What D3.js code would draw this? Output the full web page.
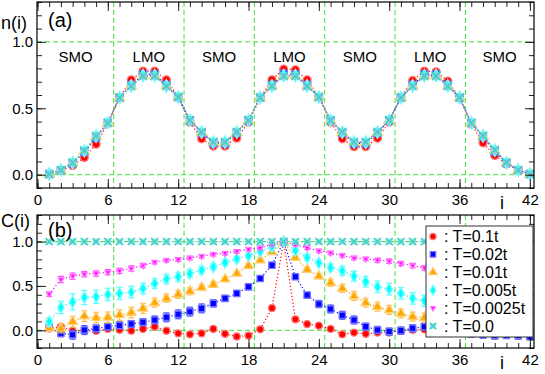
<!DOCTYPE html>
<html>
<head>
<meta charset="utf-8">
<script src="https://cdn.jsdelivr.net/npm/d3@7"></script>
<style>
	body { margin: 0; background: #fff; }
	svg { display: block; font-family: "Liberation Sans", Arial, sans-serif; }
</style>
</head>
<body>
<div id="chart"></div>
<script>
// sites of the chain
const sites = d3.range(1, 43);
const xTickLabels = [0, 6, 12, 18, 24, 30, 36, 42];
const boundaries = [6.5, 12.5, 18.5, 24.5, 30.5, 36.5];
const regionEdges = [0, 6.5, 12.5, 18.5, 24.5, 30.5, 36.5, 42.35];
const regionLabels = ["SMO", "LMO", "SMO", "LMO", "SMO", "LMO", "SMO"];
const legendLabels = ["T=0.1t", "T=0.02t", "T=0.01t", "T=0.005t", "T=0.0025t", "T=0.0"];

// (a) density n(i)
const nT01 = [0.005, 0.03, 0.07, 0.13, 0.23, 0.385, 0.58, 0.715, 0.78, 0.78, 0.715, 0.585,
	0.395, 0.27, 0.215, 0.215, 0.275, 0.395, 0.58, 0.715, 0.795, 0.79, 0.715, 0.585,
	0.395, 0.27, 0.21, 0.21, 0.275, 0.395, 0.585, 0.71, 0.78, 0.775, 0.705, 0.58,
	0.38, 0.24, 0.145, 0.08, 0.035, 0.005];
const nT002 = [0.005, 0.035, 0.085, 0.17, 0.28, 0.39, 0.58, 0.675, 0.755, 0.755, 0.675, 0.585,
	0.41, 0.315, 0.237, 0.237, 0.315, 0.41, 0.58, 0.675, 0.76, 0.755, 0.675, 0.585,
	0.41, 0.315, 0.235, 0.235, 0.315, 0.41, 0.58, 0.675, 0.755, 0.755, 0.675, 0.58,
	0.39, 0.285, 0.175, 0.088, 0.035, 0.005];
const nT001 = [0.005, 0.035, 0.09, 0.178, 0.288, 0.39, 0.58, 0.67, 0.748, 0.748, 0.67, 0.585,
	0.41, 0.32, 0.243, 0.243, 0.32, 0.41, 0.58, 0.67, 0.748, 0.748, 0.67, 0.585,
	0.41, 0.32, 0.243, 0.243, 0.32, 0.41, 0.58, 0.67, 0.748, 0.748, 0.67, 0.58,
	0.39, 0.29, 0.183, 0.09, 0.035, 0.005];
const nT0005 = [0.005, 0.035, 0.09, 0.18, 0.29, 0.39, 0.58, 0.668, 0.745, 0.745, 0.668, 0.585,
	0.41, 0.32, 0.245, 0.245, 0.32, 0.41, 0.58, 0.668, 0.745, 0.745, 0.668, 0.585,
	0.41, 0.32, 0.245, 0.245, 0.32, 0.41, 0.58, 0.668, 0.745, 0.745, 0.668, 0.58,
	0.39, 0.292, 0.185, 0.09, 0.035, 0.005];
const nT00025 = [0.005, 0.035, 0.092, 0.182, 0.292, 0.39, 0.58, 0.667, 0.744, 0.744, 0.667, 0.585,
	0.41, 0.322, 0.246, 0.246, 0.322, 0.41, 0.58, 0.667, 0.744, 0.744, 0.667, 0.585,
	0.41, 0.322, 0.246, 0.246, 0.322, 0.41, 0.58, 0.667, 0.744, 0.744, 0.667, 0.58,
	0.39, 0.293, 0.186, 0.092, 0.035, 0.005];
const nT0 = [0.005, 0.035, 0.092, 0.183, 0.293, 0.39, 0.58, 0.666, 0.743, 0.743, 0.666, 0.585,
	0.41, 0.323, 0.247, 0.247, 0.323, 0.41, 0.58, 0.666, 0.743, 0.743, 0.666, 0.585,
	0.41, 0.323, 0.247, 0.247, 0.323, 0.41, 0.58, 0.666, 0.743, 0.743, 0.666, 0.58,
	0.39, 0.294, 0.187, 0.093, 0.035, 0.005];

// (b) correlation C(i) with site 21
const cT01 = [0.02, 0.04, -0.005, -0.005, -0.007, 0.015, 0.005, -0.005, 0.015, 0.04, -0.005, -0.035,
	-0.045, -0.035, 0.015, -0.04, -0.07, -0.06, 0.011, 0.25, 1.0, 0.124, 0.07, 0.052,
	0.015, -0.045, -0.026, -0.04, -0.026, -0.026, -0.005, 0.005, 0.01, 0.02, -0.01, 0.0,
	-0.02, -0.03, -0.05, -0.04, -0.03, 0.0];
const cT002 = [0.03, -0.034, -0.05, 0.002, 0.02, 0.04, 0.055, 0.07, 0.09, 0.116, 0.146, 0.18,
	0.21, 0.247, 0.303, 0.36, 0.416, 0.49, 0.584, 0.734, 1.0, 0.603, 0.397, 0.296,
	0.24, 0.169, 0.116, 0.041, 0.004, -0.015, -0.004, 0.022, 0.04, 0.03, 0.01, -0.02,
	-0.04, -0.05, -0.06, -0.055, -0.06, -0.07];
const cT001 = [0.022, 0.02, 0.097, 0.16, 0.142, 0.146, 0.172, 0.2, 0.247, 0.31, 0.36, 0.404,
	0.44, 0.483, 0.517, 0.577, 0.64, 0.727, 0.79, 0.884, 1.0, 0.82, 0.685, 0.61,
	0.536, 0.472, 0.386, 0.31, 0.266, 0.228, 0.19, 0.154, 0.142, 0.12, 0.1, 0.09,
	0.07, 0.06, 0.05, 0.04, 0.03, 0.02];
const cT0005 = [0.097, 0.258, 0.32, 0.37, 0.378, 0.404, 0.416, 0.43, 0.47, 0.528, 0.577, 0.603,
	0.64, 0.678, 0.715, 0.764, 0.805, 0.84, 0.89, 0.94, 1.0, 0.9, 0.82, 0.76,
	0.708, 0.67, 0.61, 0.547, 0.49, 0.464, 0.416, 0.36, 0.333, 0.3, 0.28, 0.26,
	0.24, 0.22, 0.2, 0.18, 0.15, 0.08];
const cT00025 = [0.408, 0.573, 0.61, 0.633, 0.64, 0.655, 0.67, 0.697, 0.73, 0.768, 0.79, 0.798,
	0.816, 0.835, 0.857, 0.869, 0.89, 0.914, 0.929, 0.97, 1.0, 0.966, 0.93, 0.895,
	0.873, 0.843, 0.816, 0.805, 0.79, 0.78, 0.753, 0.73, 0.704, 0.69, 0.67, 0.66,
	0.65, 0.63, 0.6, 0.58, 0.55, 0.4];
const cT0 = [1, 1, 1, 1, 1, 1, 1, 1, 1, 1, 1, 1, 1, 1, 1, 1, 1, 1, 1, 1, 1,
	1, 1, 1, 1, 1, 1, 1, 1, 1, 1, 1, 1, 1, 1, 1, 1, 1, 1, 1, 1, 1];

// error bars of C(i)
const eT01 = [0.025, 0.03, 0.025, 0.025, 0.025, 0.025, 0.025, 0.025, 0.025, 0.025, 0.025, 0.03,
	0.03, 0.03, 0.03, 0.03, 0.03, 0.03, 0.02, 0.03, 0, 0.03, 0.03, 0.025,
	0.025, 0.03, 0.025, 0.025, 0.025, 0.025, 0.025, 0.025, 0.025, 0.025, 0.025, 0.025,
	0.025, 0.025, 0.025, 0.025, 0.025, 0.025];
const eT002 = [0.03, 0.04, 0.05, 0.05, 0.04, 0.04, 0.04, 0.04, 0.04, 0.045, 0.05, 0.05,
	0.05, 0.05, 0.04, 0.03, 0.03, 0.025, 0.02, 0.02, 0, 0.03, 0.03, 0.04,
	0.045, 0.045, 0.045, 0.04, 0.04, 0.04, 0.04, 0.04, 0.04, 0.04, 0.04, 0.04,
	0.04, 0.04, 0.04, 0.04, 0.04, 0.04];
const eT001 = [0.03, 0.05, 0.06, 0.06, 0.06, 0.06, 0.06, 0.06, 0.055, 0.05, 0.045, 0.045,
	0.04, 0.035, 0.03, 0.025, 0.02, 0.02, 0.02, 0.015, 0, 0.02, 0.025, 0.03,
	0.04, 0.045, 0.05, 0.05, 0.05, 0.05, 0.05, 0.05, 0.05, 0.05, 0.05, 0.05,
	0.05, 0.05, 0.05, 0.05, 0.05, 0.05];
const eT0005 = [0.04, 0.07, 0.09, 0.08, 0.075, 0.07, 0.07, 0.065, 0.06, 0.055, 0.05, 0.05,
	0.045, 0.04, 0.035, 0.03, 0.025, 0.02, 0.02, 0.015, 0, 0.02, 0.03, 0.03,
	0.04, 0.05, 0.055, 0.06, 0.065, 0.065, 0.065, 0.065, 0.065, 0.065, 0.065, 0.065,
	0.065, 0.065, 0.065, 0.065, 0.065, 0.065];
const eT00025 = [0.025, 0.035, 0.035, 0.03, 0.03, 0.03, 0.03, 0.03, 0.025, 0.02, 0.02, 0.02,
	0.02, 0.02, 0.02, 0.02, 0.02, 0.02, 0.02, 0.015, 0, 0.015, 0.02, 0.02,
	0.02, 0.02, 0.02, 0.02, 0.025, 0.025, 0.025, 0.025, 0.025, 0.025, 0.025, 0.025,
	0.025, 0.025, 0.025, 0.03, 0.03, 0.03];

// styles for the 6 temperatures
const colors = ["#ff0000", "#0000ff", "#ffa500", "#00ffff", "#ff00ff", "#40d0c8"];
const triangleDown = {
	draw(context, size) {
		const s = Math.sqrt(size / (3 * Math.sqrt(3) / 4));
		const h = s * Math.sqrt(3) / 2;
		context.moveTo(0, h * 2 / 3);
		context.lineTo(s / 2, -h / 3);
		context.lineTo(-s / 2, -h / 3);
		context.closePath();
	}
};
const symbols = [d3.symbolCircle, d3.symbolSquare, d3.symbolTriangle, d3.symbolDiamond, triangleDown, d3.symbolX];
const green = "#3ee23e";

const W = 545, H = 374;
const svg = d3.select("#chart")
	.append("svg")
	.attr("width", W)
	.attr("height", H);

const x = d3.scaleLinear()
	.domain([-0.04, 42.35])
	.range([37, 534]);

function lighter(c, k) {
	return d3.interpolateRgb(c, "#ffffff")(k);
}

function drawMarker(g, sym, color, size, px, py) {
	const isX = sym === d3.symbolX;
	if (isX) {
		// the cross sits on a pale square
		g.append("path")
			.attr("transform", `translate(${px},${py})`)
			.attr("d", d3.symbol(d3.symbolSquare, size * 1.1)())
			.attr("fill", lighter(color, 0.35))
			.attr("opacity", 0.8);
	}
	g.append("path")
		.attr("transform", `translate(${px},${py})`)
		.attr("d", d3.symbol(sym, size)())
		.attr("fill", isX ? "none" : color)
		.attr("stroke", isX ? color : lighter(color, 0.45))
		.attr("stroke-width", isX ? 1.6 : 1.3);
}

function drawPanel(cfg) {
	const y = d3.scaleLinear()
		.domain(cfg.domain)
		.range([cfg.bottom, cfg.top]);

	const g = svg.append("g");
	const clipId = "clip-" + cfg.name;
	svg.append("clipPath").attr("id", clipId)
		.append("rect")
		.attr("x", 37).attr("y", cfg.top)
		.attr("width", 497).attr("height", cfg.bottom - cfg.top);

	// green guide lines
	const guides = g.append("g").attr("clip-path", `url(#${clipId})`);
	boundaries.forEach(b => {
		guides.append("line")
			.attr("x1", x(b)).attr("x2", x(b))
			.attr("y1", cfg.top).attr("y2", cfg.bottom)
			.attr("stroke", green).attr("stroke-width", 1)
			.attr("stroke-dasharray", "5,3");
	});
	[0, 1].forEach(v => {
		guides.append("line")
			.attr("x1", 37).attr("x2", 534)
			.attr("y1", y(v)).attr("y2", y(v))
			.attr("stroke", green).attr("stroke-width", 1)
			.attr("stroke-dasharray", "5,3");
	});

	// region names
	if (cfg.regions) {
		regionLabels.forEach((lab, k) => {
			g.append("text")
				.attr("x", x((regionEdges[k] + regionEdges[k + 1]) / 2))
				.attr("y", 62)
				.attr("text-anchor", "middle")
				.style("font-size", "15px")
				.text(lab);
		});
	}

	// series
	const plot = g.append("g").attr("clip-path", `url(#${clipId})`);
	cfg.series.forEach((vals, s) => {
		const color = colors[s];
		const line = d3.line()
			.x((d, i) => x(sites[i]))
			.y(d => y(d));
		plot.append("path")
			.datum(vals)
			.attr("d", line)
			.attr("fill", "none")
			.attr("stroke", color)
			.attr("stroke-width", 1.2)
			.attr("stroke-dasharray", "1.2,2.2");

		if (cfg.errors && cfg.errors[s]) {
			cfg.errors[s].forEach((e, i) => {
				if (e <= 0) return;
				const px = x(sites[i]);
				const eg = plot.append("g")
					.attr("stroke", lighter(color, 0.3))
					.attr("stroke-width", 1.2);
				eg.append("line").attr("x1", px).attr("x2", px)
					.attr("y1", y(vals[i] - e)).attr("y2", y(vals[i] + e));
				eg.append("line").attr("x1", px - 3).attr("x2", px + 3)
					.attr("y1", y(vals[i] - e)).attr("y2", y(vals[i] - e));
				eg.append("line").attr("x1", px - 3).attr("x2", px + 3)
					.attr("y1", y(vals[i] + e)).attr("y2", y(vals[i] + e));
			});
		}
		vals.forEach((v, i) => {
			drawMarker(plot, symbols[s], color, cfg.markerSize[s], x(sites[i]), y(v));
		});
	});

	// ticks on all four sides
	const xMinor = d3.range(0, 43);
	const yMinor = d3.range(Math.round(cfg.domain[0] * 10), Math.round(cfg.domain[1] * 10) + 1).map(k => k / 10);
	const yMajor = [0, 0.5, 1.0];
	const tickStyle = sel => {
		sel.select(".domain").remove();
		sel.selectAll("line").attr("stroke", "#222").attr("stroke-width", 1);
	};
	[[xMinor, 5], [xTickLabels, 9]].forEach(([vals, len]) => {
		g.append("g").attr("transform", `translate(0,${cfg.bottom})`)
			.call(d3.axisBottom(x).tickValues(vals).tickSize(-len).tickFormat(""))
			.call(tickStyle);
		g.append("g").attr("transform", `translate(0,${cfg.top})`)
			.call(d3.axisTop(x).tickValues(vals).tickSize(-len).tickFormat(""))
			.call(tickStyle);
	});
	[[yMinor, 5], [yMajor, 9]].forEach(([vals, len]) => {
		g.append("g").attr("transform", "translate(37,0)")
			.call(d3.axisLeft(y).tickValues(vals).tickSize(-len).tickFormat(""))
			.call(tickStyle);
		g.append("g").attr("transform", "translate(534,0)")
			.call(d3.axisRight(y).tickValues(vals).tickSize(-len).tickFormat(""))
			.call(tickStyle);
	});

	// tick labels
	g.append("g").attr("transform", `translate(0,${cfg.bottom})`)
		.call(d3.axisBottom(x).tickValues(xTickLabels).tickSize(0).tickPadding(6))
		.call(sel => sel.select(".domain").remove())
		.selectAll("text")
		.attr("fill", "#000")
		.style("font-size", "15px")
		.style("font-family", "Liberation Sans, Arial, sans-serif");
	g.append("g").attr("transform", "translate(37,0)")
		.call(d3.axisLeft(y).tickValues(yMajor).tickSize(0).tickPadding(4).tickFormat(d3.format(".1f")))
		.call(sel => sel.select(".domain").remove())
		.selectAll("text")
		.attr("fill", "#000")
		.style("font-size", "15px")
		.style("font-family", "Liberation Sans, Arial, sans-serif");

	// frame
	g.append("rect")
		.attr("x", 37).attr("y", cfg.top)
		.attr("width", 497).attr("height", cfg.bottom - cfg.top)
		.attr("fill", "none").attr("stroke", "#000").attr("stroke-width", 1.2);

	// axis titles
	g.append("text").attr("x", 1).attr("y", cfg.top + cfg.titleDy)
		.style("font-size", "18px").text(cfg.ylabel);
	g.append("text").attr("x", 48).attr("y", cfg.top + cfg.tagDy)
		.style("font-size", "20px").text(cfg.tag);
	g.append("text").attr("x", 502).attr("y", cfg.bottom + 21)
		.attr("text-anchor", "middle")
		.style("font-size", "18px").text("i");

	return y;
}

drawPanel({
	name: "a", top: 2, bottom: 188, domain: [-0.1, 1.3],
	series: [nT01, nT002, nT001, nT0005, nT00025, nT0],
	markerSize: [48, 50, 45, 45, 45, 45],
	regions: true,
	ylabel: "n(i)", tag: "(a)", titleDy: 27, tagDy: 25
});

drawPanel({
	name: "b", top: 215, bottom: 348, domain: [-0.2, 1.3],
	series: [cT01, cT002, cT001, cT0005, cT00025, cT0],
	errors: [eT01, eT002, eT001, eT0005, eT00025, null],
	markerSize: [38, 40, 38, 38, 38, 36],
	regions: false,
	ylabel: "C(i)", tag: "(b)", titleDy: 12, tagDy: 22
});

// legend
const legend = svg.append("g");
legend.append("rect")
	.attr("x", 426).attr("y", 226)
	.attr("width", 107).attr("height", 111)
	.attr("fill", "#fff").attr("stroke", "#333").attr("stroke-width", 1);
legendLabels.forEach((lab, k) => {
	const ly = 236.5 + k * 17.9;
	drawMarker(legend, symbols[k], colors[k], 30, 433, ly);
	legend.append("text")
		.attr("x", 444).attr("y", ly)
		.attr("dy", "0.35em")
		.style("font-size", "16px")
		.text(": " + lab);
});
</script>
</body>
</html>
